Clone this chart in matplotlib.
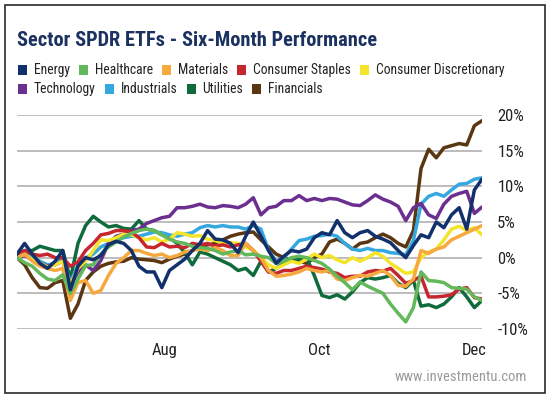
import matplotlib
matplotlib.use("Agg")
import matplotlib.pyplot as plt
import matplotlib.dates as mdates
from matplotlib.patches import Rectangle
from matplotlib import font_manager
import pandas as pd

# six months of closes, sampled every 3 days from Jun 4 2016 (% change)
dates = pd.date_range("2016-06-04", periods=62, freq="3D")

energy = [0.5, 2.0, 0.5, -0.8, -1.5, -0.5, 1.0, -4.5, -1.2, 0.0, -0.3, 0.3, 1.8, 2.3, 2.0, 1.0,
          -1.2, -2.0, -2.0, -4.2, -1.8, -1.0, -0.2, 1.0, 2.0, 3.8, 2.6, 2.5, 2.0, 0.7, 3.0, 5.0,
          3.0, 1.0, -0.8, 0.2, 1.0, 0.8, 1.2, 2.8, 3.5, 3.2, 5.2, 3.5, 2.8, 3.5, 3.8, 3.0,
          2.6, 2.1, 1.0, 0.0, 1.7, 3.2, 2.8, 5.0, 4.2, 6.0, 7.0, 4.0, 9.5, 11.0]
healthcare = [0.0, -0.7, -1.2, -2.2, -3.0, -3.2, -2.4, -5.0, -3.0, -1.1, -1.0, 0.5, 1.5, 2.2, 2.9, 3.4,
              3.8, 4.0, 3.8, 3.2, 2.6, 2.2, 2.0, 1.6, 1.4, 1.3, 1.0, 0.5, 0.8, 1.0, 0.4, 0.5,
              0.2, 0.0, -0.8, -0.5, 0.0, 0.2, 0.0, -0.4, -0.8, -1.6, -2.6, -3.5, -4.5, -3.4, -4.0, -4.5,
              -5.0, -6.5, -7.8, -9.0, -7.0, -2.0, -3.2, -3.3, -3.5, -4.2, -4.3, -4.4, -5.5, -6.0]
materials = [0.0, 0.5, -0.5, -1.2, -1.5, -1.8, -1.5, -6.0, -3.5, -3.2, -5.0, -4.6, -2.5, -0.8, 0.0, 1.0,
             1.0, 0.6, 0.3, 0.5, 0.0, 0.3, 0.8, 1.0, 1.2, 1.0, 1.4, 1.0, 0.3, 0.3, 2.0, 1.0,
             0.0, -1.8, -2.6, -2.5, -2.3, -2.0, -1.5, -1.8, -2.0, -1.8, -3.0, -3.2, -2.8, -2.5, -2.6, -2.2,
             -1.8, -2.5, -3.9, -4.0, -3.0, 1.0, 0.6, 1.2, 1.5, 2.5, 3.0, 3.5, 4.0, 4.5]
staples = [0.5, 1.0, 0.5, 0.3, 0.5, 0.0, 0.0, -1.2, -0.6, 1.0, 2.0, 3.2, 3.4, 3.8, 3.8, 3.6,
           2.8, 1.5, 1.4, 2.0, 1.5, 1.6, 1.4, 2.0, 1.8, 2.0, 1.6, 1.8, 1.5, 1.8, 2.0, 1.0,
           -0.5, -2.0, -2.2, -1.8, -1.8, -1.5, -1.2, -1.4, -1.6, -2.0, -2.2, -2.8, -2.6, -2.6, -2.0, -1.8,
           -1.9, -1.5, -2.5, -3.6, -3.2, -2.6, -5.5, -5.5, -5.4, -5.2, -4.4, -4.2, -5.6, -5.8]
discretionary = [0.0, 0.5, -0.3, -0.8, -1.3, -1.0, -0.5, -3.8, -1.5, -0.5, 1.0, 2.5, 2.4, 2.8, 3.3, 3.2,
                 2.8, 2.5, 2.8, 2.2, 2.6, 3.5, 3.3, 3.0, 3.1, 2.6, 2.4, 2.0, 2.1, 2.0, 1.5, 1.0,
                 0.0, -1.0, -1.5, -1.0, -0.5, -0.8, -0.2, 0.5, 0.0, 0.3, -0.3, -0.7, 0.0, -0.5, 0.0, 0.7,
                 0.2, -0.8, -1.5, -2.2, -2.0, 0.0, 0.8, 1.2, 2.5, 4.0, 4.4, 3.8, 4.2, 3.2]
technology = [0.0, 0.3, -0.3, -0.8, -1.2, -1.0, -0.5, -4.0, -2.0, -1.0, -1.8, -0.4, 2.0, 3.0, 3.3, 3.8,
              4.0, 4.8, 5.2, 5.6, 5.8, 7.0, 7.0, 7.2, 7.5, 7.1, 7.0, 7.3, 7.2, 7.0, 7.5, 8.4,
              6.0, 7.0, 7.2, 8.0, 8.0, 8.7, 8.0, 8.3, 8.0, 8.3, 8.2, 7.8, 7.4, 7.3, 8.0, 8.8,
              8.2, 7.8, 7.2, 5.2, 7.0, 7.6, 6.0, 5.5, 7.5, 8.6, 9.0, 9.3, 6.2, 7.1]
industrials = [0.0, 0.8, 0.2, -0.5, -1.0, -0.8, 0.0, -3.5, -1.0, 0.0, 0.5, 1.5, 2.0, 2.5, 2.8, 3.0,
               3.0, 3.3, 3.6, 3.5, 3.2, 3.0, 3.3, 3.5, 4.2, 4.5, 4.3, 4.5, 4.3, 4.3, 4.0, 4.5,
               4.0, 1.0, -0.5, 0.0, 1.2, 2.4, 2.6, 3.0, 3.1, 3.3, 3.0, 2.0, 1.2, 1.0, 1.3, 1.0,
               1.0, 0.7, 0.6, 0.4, 2.4, 7.5, 8.6, 9.0, 8.6, 9.5, 10.3, 10.4, 11.0, 11.2]
utilities = [0.3, 1.0, 1.0, 1.6, 1.3, 1.0, 1.0, -3.0, 2.0, 4.5, 5.8, 5.0, 4.3, 4.5, 4.1, 4.0,
             5.2, 4.0, 3.8, 3.2, 2.8, 2.0, 0.7, -1.0, 0.8, 0.5, 0.0, -0.5, -1.0, -1.8, -1.5, -2.5,
             -0.5, -2.0, -1.5, -0.8, -0.4, -0.2, 0.0, -2.5, -5.3, -5.6, -5.2, -5.8, -4.8, -3.5, -2.8, -3.0,
             -2.8, -2.5, -3.6, -4.2, -3.2, -6.8, -6.6, -7.0, -6.5, -5.5, -4.2, -5.5, -7.0, -6.0]
financials = [0.0, -1.0, -2.8, -4.2, -4.3, -3.5, -3.2, -8.5, -6.5, -3.2, -2.0, -1.2, -0.8, -0.6, -0.5, 0.0,
              -0.2, -0.3, -0.4, -0.7, -0.2, 0.2, 0.5, 1.0, 1.5, 1.8, 2.0, 2.5, 3.0, 3.3, 3.5, 3.6,
              2.5, 1.5, 0.5, 0.0, -0.3, -0.5, -0.8, 0.0, 0.5, 2.2, 2.6, 2.0, 1.2, 2.0, 2.2, 2.8,
              3.3, 2.8, 2.0, 1.5, 3.8, 12.5, 15.2, 14.0, 15.4, 15.7, 16.0, 15.8, 18.5, 19.2]

names = ["Energy", "Healthcare", "Materials", "Consumer Staples", "Consumer Discretionary",
         "Technology", "Industrials", "Utilities", "Financials"]
series = [energy, healthcare, materials, staples, discretionary,
          technology, industrials, utilities, financials]
colors = ["#12306b", "#62b85a", "#f6a93f", "#c6262e", "#f4e42c",
          "#6b2f8f", "#36a8e0", "#0f6b3b", "#5a3613"]

yticks = [-10, -5, 0, 5, 10, 15, 20]

# pick the narrowest family that is actually installed
installed = {f.name for f in font_manager.fontManager.ttflist}
cond = [f for f in ["Roboto Condensed", "Liberation Sans Narrow", "DejaVu Sans Condensed",
                    "Roboto", "Liberation Sans"] if f in installed][:1] + ["DejaVu Sans"]

W, H = 550, 399

fig = plt.figure(figsize=(W / 100, H / 100), dpi=100)
fig.patch.set_facecolor("white")

ax = fig.add_axes([17 / W, 1 - 329 / H, (482 - 17) / W, (329 - 115) / H])

# draw Energy last so it sits on top
for name, vals, c in reversed(list(zip(names, series, colors))):
    ax.plot(dates, vals, color=c, lw=2.5, solid_joinstyle="round", solid_capstyle="round")

ax.set_xlim(dates[0], dates[-1])
ax.set_ylim(-10, 20)
ax.set_yticks(yticks)
ax.set_yticklabels([f"{v}%" for v in yticks])
ax.yaxis.tick_right()
ax.yaxis.grid(True, color="#b8b8b8", lw=1.3)
ax.set_axisbelow(True)
ax.xaxis.set_major_locator(mdates.MonthLocator(bymonth=[8, 10, 12]))
ax.xaxis.set_major_formatter(mdates.DateFormatter("%b"))
ax.tick_params(axis="y", length=0, pad=11, labelsize=12, labelcolor="#222222")
ax.tick_params(axis="x", length=0, pad=10, labelsize=12, labelcolor="#222222")
for lab in ax.get_xticklabels() + ax.get_yticklabels():
    lab.set_family(cond)
for s in ax.spines.values():
    s.set_visible(False)

fig.canvas.draw()
renderer = fig.canvas.get_renderer()

# title, shrunk to the reference width (x 17..377)
title = fig.text(17 / W, 1 - 41 / H, "Sector SPDR ETFs - Six-Month Performance", family=cond,
                 fontsize=17, fontweight="bold", color="#1b3160", va="center", ha="left")
tw = title.get_window_extent(renderer).width
title.set_fontsize(17 * 360 / tw)


def lay_row(row_names, row_colors, yc, fs):
    x = 18
    for n, c in zip(row_names, row_colors):
        fig.patches.append(Rectangle((x / W, 1 - (yc + 4.5) / H), 9 / W, 9 / H,
                                     transform=fig.transFigure, color=c, lw=0))
        t = fig.text((x + 16) / W, 1 - yc / H, n, family=cond, fontsize=fs,
                     color="#222222", va="center", ha="left")
        x = x + 16 + t.get_window_extent(renderer).width + 9
    return x - 9


# legend laid out as flowing text; size picked so row one ends near x = 505
probe_fs = 12
texts_w = 0
for n in names[:5]:
    p = fig.text(0, 0, n, family=cond, fontsize=probe_fs)
    texts_w += p.get_window_extent(renderer).width
    p.remove()
leg_fs = probe_fs * (505 - 18 - 5 * 16 - 4 * 9) / texts_w

lay_row(names[:5], colors[:5], 70, leg_fs)
lay_row(names[5:], colors[5:], 89, leg_fs)

fig.text(527 / W, 1 - 377 / H, "www.investmentu.com", family=cond, fontsize=10.5,
         color="#9a9a9a", ha="right", va="center")

# outer frame
fig.patches.append(Rectangle((5 / W, 6 / H), 540 / W, 388 / H, transform=fig.transFigure,
                             fill=False, edgecolor="#2a2a2a", lw=1.2))

fig.savefig("out.png", dpi=100)
